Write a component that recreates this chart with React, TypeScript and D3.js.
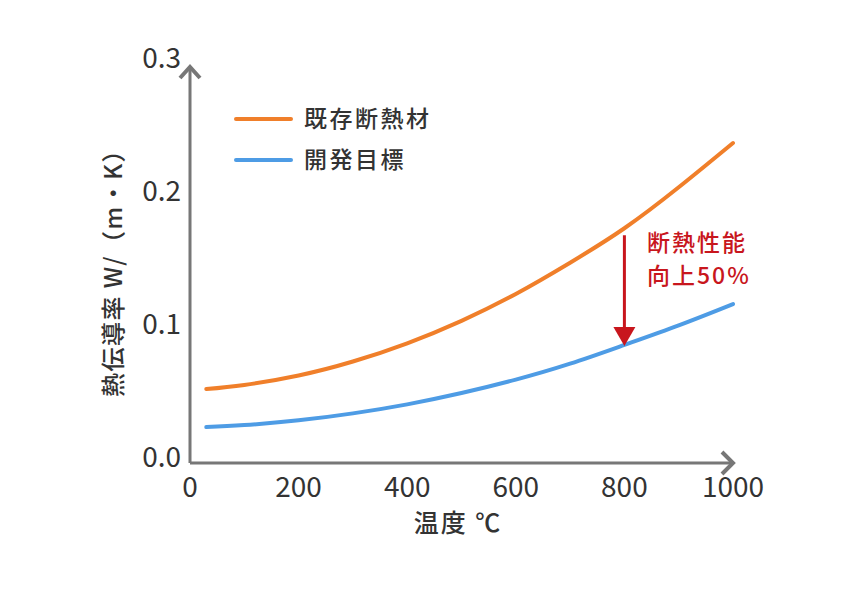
import * as d3 from "d3";

const temps = [30, 100, 200, 300, 400, 500, 600, 700, 800, 900, 1000];
const existing = [0.0556, 0.0587, 0.0658, 0.0763, 0.09, 0.1069, 0.1271, 0.1506, 0.1765, 0.2073, 0.2406];
const target = [0.027, 0.0285, 0.0321, 0.0373, 0.0441, 0.0526, 0.0627, 0.0747, 0.0888, 0.1035, 0.1195];
const xTicks = [0, 200, 400, 600, 800, 1000];
const yTicks = [0, 0.1, 0.2, 0.3];
const seriesNames = ["既存断熱材", "開発目標"];
const arrowAt = 800;

const W = 864;
const H = 589;
const font = "'Noto Sans CJK JP', 'Noto Sans', sans-serif";
const textColor = "#333";
const axisColor = "#777";
const colors = ["#f07f2a", "#4e9ce5"];
const red = "#c8161d";

export default function App() {
  const x = d3.scaleLinear().domain([0, 1000]).range([190, 733]);
  const y = d3.scaleLinear().domain([0, 0.3]).range([463, 64]);

  const line = d3
    .line<[number, number]>()
    .x((d) => x(d[0]))
    .y((d) => y(d[1]))
    .curve(d3.curveNatural);

  const series = [existing, target].map((vals) =>
    temps.map((t, i) => [t, vals[i]] as [number, number])
  );

  const x0 = x(0);
  const y0 = y(0);
  const xEnd = x(1000);
  const yTop = y(0.3) + 3;

  const interp = (vals: number[], t: number) => {
    const i = d3.bisectLeft(temps, t);
    if (temps[i] === t) return vals[i];
    const f = (t - temps[i - 1]) / (temps[i] - temps[i - 1]);
    return vals[i - 1] + f * (vals[i] - vals[i - 1]);
  };
  const ax = x(arrowAt);
  const aTop = y(interp(existing, arrowAt)) + 7;
  const aTip = y(interp(target, arrowAt)) + 1;

  return (
    <svg width={W} height={H} style={{ display: "block", margin: -8 }} fontFamily={font}>
      <rect width={W} height={H} fill="#fff" />

      {/* axes */}
      <g stroke={axisColor} strokeWidth={3} fill="none">
        <line x1={x0} y1={y0} x2={xEnd - 2} y2={y0} />
        <line x1={x0} y1={y0} x2={x0} y2={yTop + 2} />
        <polyline points={`${xEnd - 11},${y0 - 11} ${xEnd},${y0} ${xEnd - 11},${y0 + 11}`} strokeWidth={4} />
        <polyline points={`${x0 - 10},${yTop + 11} ${x0},${yTop} ${x0 + 10},${yTop + 11}`} strokeWidth={4} />
      </g>

      {/* tick labels */}
      {yTicks.map((t) => (
        <text key={t} x={181} y={y(t) + 4} textAnchor="end" fontSize={28} fill={textColor}>
          {t.toFixed(1)}
        </text>
      ))}
      {xTicks.map((t) => (
        <text key={t} x={x(t)} y={497} textAnchor="middle" fontSize={28} fill={textColor}>
          {t}
        </text>
      ))}

      {/* axis titles */}
      <text x={458} y={532} textAnchor="middle" fontSize={25} fontWeight={500} fill={textColor} letterSpacing={2}>
        温度 ℃
      </text>
      <text
        transform={`translate(122,267) rotate(-90)`}
        textAnchor="middle"
        fontSize={24}
        fontWeight={500}
        fill={textColor}
        letterSpacing={1.5}
      >
        熱伝導率 W/（m・K）
      </text>

      {/* curves */}
      {series.map((s, i) => (
        <path key={i} d={line(s) || ""} fill="none" stroke={colors[i]} strokeWidth={4} strokeLinecap="round" />
      ))}

      {/* legend */}
      {seriesNames.map((name, i) => (
        <g key={name} transform={`translate(0,${119 + i * 41})`}>
          <line x1={236} x2={291} y1={0} y2={0} stroke={colors[i]} strokeWidth={4} strokeLinecap="round" />
          <text x={304} y={8} fontSize={23} fontWeight={500} fill={textColor} letterSpacing={2.5}>
            {name}
          </text>
        </g>
      ))}

      {/* improvement arrow */}
      <line x1={ax} x2={ax} y1={aTop} y2={aTip - 16} stroke={red} strokeWidth={3} />
      <polygon points={`${ax - 11},${aTip - 19} ${ax + 11},${aTip - 19} ${ax},${aTip}`} fill={red} />
      <text x={647} y={251} fontSize={23} fontWeight={500} fill={red} letterSpacing={2}>
        断熱性能
      </text>
      <text x={647} y={284} fontSize={23} fontWeight={500} fill={red} letterSpacing={2}>
        向上50%
      </text>
    </svg>
  );
}
